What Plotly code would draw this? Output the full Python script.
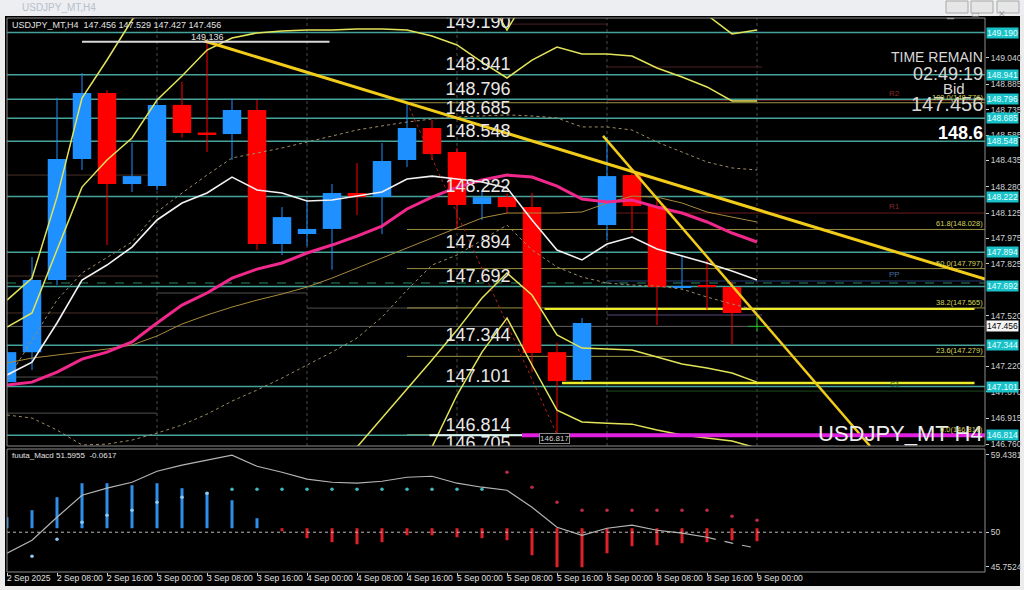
import plotly.graph_objects as go

# ---------------- data ----------------
bar_index = list(range(31))
x_tick_index = list(range(0, 31, 2))
x_tick_labels = ["2 Sep 2025", "2 Sep 08:00", "2 Sep 16:00", "3 Sep 00:00", "3 Sep 08:00",
                 "3 Sep 16:00", "4 Sep 00:00", "4 Sep 08:00", "4 Sep 16:00", "5 Sep 00:00",
                 "5 Sep 08:00", "5 Sep 16:00", "8 Sep 00:00", "8 Sep 08:00", "8 Sep 16:00",
                 "9 Sep 00:00"]

opens = [147.127, 147.304, 147.729, 148.444, 148.833, 148.296, 148.284, 148.763, 148.600, 148.591,
         148.733, 147.942, 148.001, 148.031, 148.243, 148.219, 148.438, 148.627, 148.485, 148.178,
         148.219, 148.160, 147.304, 147.139, 148.054, 148.349, 148.166, 147.688, 147.694, 147.688,
         147.456]
highs = [147.340, 147.865, 148.804, 148.951, 148.850, 148.538, 148.800, 148.900, 149.136, 148.800,
         148.792, 148.160, 148.200, 148.296, 148.420, 148.538, 148.776, 148.674, 148.509, 148.250,
         148.240, 148.243, 147.360, 147.505, 148.574, 148.370, 148.200, 147.877, 147.848, 147.720,
         147.529]
lows = [147.100, 147.198, 147.700, 148.379, 147.936, 148.249, 148.260, 148.570, 148.485, 148.438,
        147.907, 147.877, 147.930, 147.790, 148.113, 148.000, 148.397, 148.438, 148.025, 148.084,
        148.120, 147.186, 146.817, 147.127, 147.966, 148.007, 147.464, 147.670, 147.552, 147.346,
        147.427]
closes = [147.304, 147.729, 148.444, 148.833, 148.296, 148.343, 148.763, 148.597, 148.590, 148.733,
          147.942, 148.101, 148.031, 148.243, 148.219, 148.432, 148.627, 148.473, 148.172, 148.219,
          148.160, 147.299, 147.133, 147.476, 148.343, 148.166, 147.688, 147.694, 147.690, 147.535,
          147.456]

ma_white = [147.169, 147.245, 147.476, 147.729, 147.818, 147.924, 148.084, 148.184, 148.243, 148.337,
            148.261, 148.243, 148.196, 148.202, 148.225, 148.249, 148.326, 148.343, 148.326, 148.308,
            148.273, 148.084, 147.907, 147.848, 147.942, 147.983, 147.913, 147.871, 147.830, 147.783,
            147.729]
ma_magenta = [147.110, 147.127, 147.186, 147.263, 147.304, 147.364, 147.476, 147.582, 147.653, 147.741,
              147.794, 147.830, 147.889, 147.936, 147.989, 148.048, 148.149, 148.219, 148.278, 148.320,
              148.349, 148.337, 148.284, 148.208, 148.190, 148.202, 148.160, 148.125, 148.072, 148.007,
              147.954]
ma_olive = [147.240, 147.269, 147.287, 147.304, 147.322, 147.346, 147.399, 147.470, 147.523, 147.570,
            147.611, 147.647, 147.688, 147.741, 147.800, 147.859, 147.918, 147.977, 148.036, 148.096,
            148.125, 148.125, 148.125, 148.131, 148.184, 148.225, 148.219, 148.184, 148.131, 148.101,
            148.072]
ma_dot_upper = [147.139, 147.375, 147.611, 147.771, 147.865, 147.954, 148.131, 148.243, 148.349, 148.450,
                148.479, 148.509, 148.544, 148.580, 148.615, 148.639, 148.662, 148.680, 148.692, 148.698,
                148.704, 148.698, 148.686, 148.633, 148.633, 148.615, 148.544, 148.485, 148.426, 148.391,
                148.379]
ma_dot_lower = [146.933, 146.915, 146.844, 146.756, 146.761, 146.785, 146.826, 146.874, 146.938, 147.015,
                147.080, 147.151, 147.228, 147.304, 147.387, 147.511, 147.670, 147.818, 147.877, 147.966,
                148.054, 147.907, 147.806, 147.747, 147.712, 147.700, 147.694, 147.676, 147.629, 147.588,
                147.552]
band_outer_up = [147.611, 147.741, 148.219, 148.804, 149.028, 149.264, 149.45, 149.45, 149.45, 149.45,
                 149.45, 149.45, 149.45, 149.45, 149.45, 149.45, 149.45, 149.45, 149.45, 149.45,
                 149.205, 149.45, 149.45, 149.45, 149.45, 149.45, 149.45, 149.45, 149.294, 149.182,
                 149.205]
band_inner_up = [147.452, 147.535, 147.907, 148.278, 148.438, 148.568, 148.792, 148.934, 149.087, 149.158,
                 149.188, 149.199, 149.205, 149.205, 149.211, 149.211, 149.205, 149.170, 149.117, 149.016,
                 148.922, 149.028, 149.105, 149.064, 149.064, 149.052, 148.981, 148.928, 148.869, 148.786,
                 148.786]
band_inner_low = [146.5, 146.5, 146.5, 146.5, 146.5, 146.5, 146.5, 146.5, 146.5, 146.5,
                  146.5, 146.5, 146.5, 146.5, 146.744, 146.915, 147.080, 147.257, 147.434, 147.623,
                  147.771, 147.641, 147.405, 147.328, 147.322, 147.316, 147.275, 147.234, 147.210, 147.181,
                  147.127]
band_outer_low = [146.4, 146.4, 146.4, 146.4, 146.4, 146.4, 146.4, 146.4, 146.4, 146.4,
                  146.4, 146.4, 146.4, 146.4, 146.4, 146.4, 146.5, 146.744, 147.051, 147.304,
                  147.505, 147.228, 146.962, 146.892, 146.885, 146.879, 146.844, 146.815, 146.797, 146.779,
                  146.738]

trend1_k = [7.9, 39.12]
trend1_p = [149.140, 147.735]
trend2_k = [23.84, 34.52]
trend2_p = [148.580, 146.750]
zigzag_k = [16, 22]
zigzag_p = [148.776, 146.817]

levels = [149.190, 148.941, 148.796, 148.685, 148.548, 148.222, 147.894, 147.692, 147.344, 147.101, 146.814]
level_labels = ["149.190", "148.941", "148.796", "148.685", "148.548", "148.222", "147.894", "147.692",
                "147.344", "147.101", "146.814"]
big_label_values = levels + [146.705]
big_label_texts = level_labels + ["146.705"]

fib_values = [148.776, 148.028, 147.797, 147.565, 147.279, 146.817]
fib_labels = ["100.0(148.776)", "61.8(148.028)", "50.0(147.797)", "38.2(147.565)", "23.6(147.279)", "0.0(146.817)"]

pivot_values = [148.790, 148.125, 147.724, 147.074]
pivot_labels = ["R2", "R1", "PP", "S1"]

price_ticks = [149.040, 148.885, 148.735, 148.585, 148.435, 148.280, 148.125, 147.975, 147.825,
               147.520, 147.220, 147.070, 146.915, 146.760]

# MACD panel
macd_line = [47.43, 49.02, 51.83, 54.52, 55.38, 56.11, 57.45, 58.19, 58.80, 59.41,
             58.06, 57.33, 56.48, 56.11, 55.99, 56.23, 56.72, 56.84, 55.99, 55.50,
             55.13, 53.05, 50.61, 49.63, 50.49, 50.86, 50.24, 49.88, 49.39, 48.66,
             48.04]
hist_base = 50.49
hist_end = [51.83, 52.69, 54.28, 55.99, 55.99, 55.74, 55.99, 55.38, 54.89, 53.91,
            51.71, 50.12, 49.27, 48.78, 48.53, 48.78, 49.63, 49.63, 49.39, 49.27,
            49.02, 47.19, 45.72, 45.72, 47.43, 48.29, 48.41, 48.66, 48.78, 49.02,
            48.90]
signal_dots = [None, 47.07, 49.14, 51.22, 52.08, 52.69, 53.67, 54.28, 54.77, 55.25,
               55.25, 55.25, 55.25, 55.25, 55.25, 55.25, 55.25, 55.25, 55.25, 55.25,
               57.33, 55.50, 53.67, 52.69, 52.69, 52.69, 52.69, 52.69, 52.69, 51.96,
               51.47]
macd_ticks = [59.4381, 50, 45.7524]

# ---------------- layout helpers ----------------
W, H = 1024, 590
ML, MR, MT, MB = 7, 39, 18, 18
PW = W - ML - MR
PH = H - MT - MB


def px_x(px):
    return (px - ML) / PW


def px_y(py):
    return (H - MB - py) / PH


XMAX = 39.12
FONT = "Liberation Sans, Arial, sans-serif"

fig = go.Figure()

# ---------------- candles ----------------
up_k, up_b, up_h = [], [], []
dn_k, dn_b, dn_h = [], [], []
wick = {"up": ([], []), "dn": ([], []), "doji": ([], [])}
for k, o, h, l, c in zip(bar_index, opens, highs, lows, closes):
    body = max(abs(c - o), 0.006)
    if c > o:
        up_k.append(k); up_b.append(o); up_h.append(body); key = "up"
    elif c < o:
        dn_k.append(k); dn_b.append(c); dn_h.append(body); key = "dn"
    else:
        key = "doji"
    wick[key][0].extend([k, k, None])
    wick[key][1].extend([l, h, None])

wick_colors = {"up": "#1e90ff", "dn": "#ff0000", "doji": "#20c020"}
for key, (wx, wy) in wick.items():
    fig.add_trace(go.Scatter(x=wx, y=wy, mode="lines", line=dict(color=wick_colors[key], width=1),
                             xaxis="x", yaxis="y", hoverinfo="skip", showlegend=False))
fig.add_trace(go.Bar(x=up_k, y=up_h, base=up_b, width=0.74, marker=dict(color="#1e90ff", line=dict(width=0)),
                     xaxis="x", yaxis="y", showlegend=False))
fig.add_trace(go.Bar(x=dn_k, y=dn_h, base=dn_b, width=0.74, marker=dict(color="#ff0000", line=dict(width=0)),
                     xaxis="x", yaxis="y", showlegend=False))
# doji body
fig.add_trace(go.Scatter(x=[30 - 0.35, 30 + 0.35], y=[closes[30], closes[30]], mode="lines",
                         line=dict(color="#20c020", width=1), xaxis="x", yaxis="y", showlegend=False))

# ---------------- indicator lines ----------------
def line(y, color, width, dash="solid", x=None):
    fig.add_trace(go.Scatter(x=x if x is not None else bar_index, y=y, mode="lines",
                             line=dict(color=color, width=width, dash=dash),
                             xaxis="x", yaxis="y", hoverinfo="skip", showlegend=False))

line(ma_dot_upper, "#9c8a66", 1, "dot")
line(ma_dot_lower, "#9c8a66", 1, "dot")
line(ma_olive, "#a88a3c", 1)
line(band_outer_up, "#e2e458", 1.5)
line(band_inner_up, "#e2e458", 1.5)
line(band_inner_low, "#e2e458", 1.5)
line(band_outer_low, "#e2e458", 1.5)
line(ma_magenta, "#f0288c", 3)
line(ma_white, "#f2f2f2", 1.6)
line(zigzag_p, "#b02020", 1, "dot", x=zigzag_k)
line(trend1_p, "#f2cc1a", 3, x=trend1_k)
line(trend2_p, "#f2cc1a", 2.5, x=trend2_k)

# big level labels (clipped to the panel like the terminal does)
fig.add_trace(go.Scatter(x=[18.84] * len(big_label_values), y=big_label_values, mode="text",
                         text=big_label_texts, textposition="top center",
                         textfont=dict(family=FONT, size=18, color="#e8e8e8"),
                         xaxis="x", yaxis="y", hoverinfo="skip", showlegend=False, cliponaxis=True))

# ---------------- MACD panel ----------------
hist_colors = ["#2e8fe8" if e > hist_base else "#e0202a" for e in hist_end]
fig.add_trace(go.Bar(x=bar_index, y=[e - hist_base for e in hist_end], base=hist_base, width=0.12,
                     marker=dict(color=hist_colors, line=dict(width=0)), xaxis="x", yaxis="y2",
                     showlegend=False))
dot_colors = ["#8fc8f0" if i < 9 else ("#40b8c0" if i < 20 else "#c02848") for i in bar_index]
fig.add_trace(go.Scatter(x=bar_index, y=signal_dots, mode="markers",
                         marker=dict(size=3.5, color=dot_colors), xaxis="x", yaxis="y2", showlegend=False))
fig.add_trace(go.Scatter(x=bar_index[:29], y=macd_line[:29], mode="lines",
                         line=dict(color="#b4b4b4", width=1.2), xaxis="x", yaxis="y2", showlegend=False))
fig.add_trace(go.Scatter(x=bar_index[28:], y=macd_line[28:], mode="lines",
                         line=dict(color="#b4b4b4", width=1.2, dash="dash"), xaxis="x", yaxis="y2",
                         showlegend=False))

# ---------------- shapes ----------------
shapes = []
# window chrome / chart background
shapes.append(dict(type="rect", xref="paper", yref="paper", x0=px_x(0), x1=px_x(W), y0=px_y(0), y1=px_y(15),
                   fillcolor="#eceef2", line=dict(width=0), layer="below"))
shapes.append(dict(type="rect", xref="paper", yref="paper", x0=px_x(5), x1=px_x(1020), y0=px_y(586),
                   y1=px_y(16), fillcolor="#000000", line=dict(width=0), layer="below"))
for bx in (946, 971, 997):
    shapes.append(dict(type="rect", xref="paper", yref="paper", x0=px_x(bx), x1=px_x(bx + 22),
                       y0=px_y(13), y1=px_y(1), fillcolor="#e6e6e6", line=dict(color="#a8a8a8", width=1)))

# faint historical levels
faint = [(148.349, 0, 6, "#4a3028"), (147.753, 0, 6, "#4a3028"), (147.653, 6, 12, "#505050"),
         (147.535, 0, 6, "#4a3028"), (147.564, 12, 18, "#505050"), (147.157, 0, 6, "#505050"),
         (146.944, 0, 6, "#505050"), (147.523, 24, 30.2, "#5a4a78"), (148.987, 24, 30.2, "#4a2020"),
         (149.240, 20, 24, "#4a2020")]
for yv, a, b, col in faint:
    shapes.append(dict(type="line", xref="x", yref="y", x0=a, x1=b, y0=yv, y1=yv,
                       line=dict(color=col, width=1), layer="below"))
# bid line
shapes.append(dict(type="line", xref="x", yref="y", x0=0, x1=XMAX, y0=closes[-1], y1=closes[-1],
                   line=dict(color="#606060", width=1), layer="below"))
# day separators
for k in (6, 12, 18, 24, 30):
    shapes.append(dict(type="line", xref="x", yref="paper", x0=k, x1=k, y0=px_y(446), y1=1,
                       line=dict(color="#4a4a4a", width=1, dash="dot"), layer="below"))
# pivots
pivot_colors = ["#6a1c1c", "#6a1c1c", "#243c70", "#1c4a1c"]
for pv, pc in zip(pivot_values, pivot_colors):
    shapes.append(dict(type="line", xref="x", yref="y", x0=24, x1=XMAX, y0=pv, y1=pv,
                       line=dict(color=pc, width=1), layer="below"))
# fibonacci
for fv in fib_values:
    shapes.append(dict(type="line", xref="x", yref="y", x0=16, x1=XMAX, y0=fv, y1=fv,
                       line=dict(color="#9a9040", width=1), layer="below"))
# teal S/R lines
for lv in levels:
    shapes.append(dict(type="line", xref="x", yref="y", x0=0, x1=XMAX, y0=lv, y1=lv,
                       line=dict(color="#45a39c", width=1.5), layer="below"))
# dashed green
shapes.append(dict(type="line", xref="x", yref="y", x0=0, x1=XMAX, y0=147.712, y1=147.712,
                   line=dict(color="#2a8a60", width=1, dash="dash"), layer="below"))
# bright yellow horizontals
shapes.append(dict(type="line", xref="x", yref="y", x0=21.5, x1=38.7, y0=147.558, y1=147.558,
                   line=dict(color="#ecec2a", width=2), layer="below"))
shapes.append(dict(type="line", xref="x", yref="y", x0=22.2, x1=38.7, y0=147.122, y1=147.122,
                   line=dict(color="#ecec2a", width=2.5), layer="below"))
# highlighted low line
shapes.append(dict(type="line", xref="x", yref="y", x0=16.9, x1=20.6, y0=146.814, y1=146.814,
                   line=dict(color="#d8f4f4", width=2)))
shapes.append(dict(type="line", xref="x", yref="y", x0=20.6, x1=XMAX, y0=146.814, y1=146.814,
                   line=dict(color="#e020e0", width=4)))
# high marker line
shapes.append(dict(type="line", xref="x", yref="y", x0=3, x1=12.9, y0=149.136, y1=149.136,
                   line=dict(color="#d8d8d8", width=2)))
# MACD 50 level
shapes.append(dict(type="line", xref="x", yref="y2", x0=0, x1=XMAX, y0=50, y1=50,
                   line=dict(color="#bcbcbc", width=1, dash="dot")))
# panel frames
shapes.append(dict(type="rect", xref="paper", yref="paper", x0=0, x1=1, y0=px_y(446), y1=1,
                   line=dict(color="#8c8c8c", width=1)))
shapes.append(dict(type="rect", xref="paper", yref="paper", x0=0, x1=1, y0=0, y1=px_y(449),
                   line=dict(color="#8c8c8c", width=1)))

# ---------------- annotations ----------------
ann = []
ann.append(dict(xref="paper", yref="paper", x=px_x(20), y=px_y(8), text="USDJPY_MT,H4", showarrow=False,
                xanchor="left", yanchor="middle", font=dict(family=FONT, size=10, color="#b8c0ca")))
for bx, g in ((946, "▁"), (971, "▭"), (997, "✕")):
    ann.append(dict(xref="paper", yref="paper", x=px_x(bx + 11), y=px_y(7), text=g, showarrow=False,
                    font=dict(family="DejaVu Sans", size=9, color="#9a9a9a")))
ann.append(dict(xref="paper", yref="paper", x=px_x(10), y=px_y(25),
                text="USDJPY_MT,H4  147.456 147.529 147.427 147.456", showarrow=False,
                xanchor="left", yanchor="middle", font=dict(family=FONT, size=9, color="#e0e0e0")))
ann.append(dict(xref="paper", yref="paper", x=px_x(10), y=px_y(455), text="fuuta_Macd 51.5955  -0.0617",
                showarrow=False, xanchor="left", yanchor="middle",
                font=dict(family=FONT, size=8, color="#e0e0e0")))
ann.append(dict(xref="x", yref="y", x=8, y=149.136, text="149.136", showarrow=False, yanchor="bottom",
                yshift=-2, font=dict(family=FONT, size=9, color="#e0e0e0")))
ann.append(dict(xref="x", yref="y", x=21.9, y=146.797, text="146.817", showarrow=False,
                bordercolor="#8a8a8a", borderwidth=1, borderpad=0, bgcolor="#000000",
                font=dict(family=FONT, size=8, color="#d0d0d0")))
# right-side info block
info = [("TIME REMAIN", 57, 14, False, 0), ("02:49:19", 74, 18, False, 0), ("Bid", 88, 15, False, -18),
        ("147.456", 104, 20, False, 0), ("<b>148.6</b>", 133, 18, True, 0)]
for txt, py, sz, bold, xs in info:
    ann.append(dict(xref="paper", yref="paper", x=1, y=px_y(py), text=txt, showarrow=False,
                    xanchor="right", yanchor="middle", xshift=xs,
                    font=dict(family=FONT, size=sz, color="#ffffff" if bold else "#d8d8d8")))
ann.append(dict(xref="paper", yref="paper", x=1, y=px_y(433), text="USDJPY_MT H4", showarrow=False,
                xanchor="right", yanchor="middle", font=dict(family=FONT, size=22, color="#ececec")))
# fib labels
for fv, fl in zip(fib_values, fib_labels):
    ann.append(dict(xref="paper", yref="y", x=1, y=fv, text=fl, showarrow=False, xanchor="right",
                    yanchor="bottom", yshift=-1, font=dict(family=FONT, size=7.5, color="#d4d45a")))
# pivot labels
for pv, pl, pc in zip(pivot_values, pivot_labels, ["#8a2a2a", "#8a2a2a", "#4a6aa8", "#2a6a2a"]):
    ann.append(dict(xref="x", yref="y", x=35.5, y=pv, text=pl, showarrow=False, yanchor="bottom",
                    font=dict(family=FONT, size=8, color=pc)))
# level boxes on the price scale
for lv, ll in zip(levels, level_labels):
    ann.append(dict(xref="paper", yref="y", x=1, y=lv, text=ll, showarrow=False, xanchor="left",
                    xshift=1, bgcolor="#19c2c8", borderpad=0,
                    font=dict(family=FONT, size=8.5, color="#e4ffff")))
ann.append(dict(xref="paper", yref="y", x=1, y=closes[-1], text="147.456", showarrow=False,
                xanchor="left", xshift=1, bgcolor="#f4f4f4", borderpad=0,
                font=dict(family=FONT, size=8.5, color="#000000")))
# time labels
for k, tl in zip(x_tick_index, x_tick_labels):
    ann.append(dict(xref="x", yref="paper", x=k, y=px_y(578), text=tl, showarrow=False, xanchor="left",
                    yanchor="middle", xshift=-2, font=dict(family=FONT, size=8.5, color="#e0e0e0")))

fig.update_layout(
    width=W, height=H, margin=dict(l=ML, r=MR, t=MT, b=MB, pad=0),
    paper_bgcolor="#ececec", plot_bgcolor="rgba(0,0,0,0)", template="none",
    barmode="overlay", showlegend=False, shapes=shapes, annotations=ann,
    xaxis=dict(domain=[0, 1], range=[0, XMAX], anchor="y2", showgrid=False, zeroline=False,
               showticklabels=False, ticks="outside", ticklen=3, tickcolor="#d0d0d0",
               tickvals=x_tick_index, automargin=False, fixedrange=True),
    yaxis=dict(domain=[px_y(446), 1], range=[146.750, 149.276], side="right", anchor="x",
               showgrid=False, zeroline=False, tickvals=price_ticks,
               ticktext=[f"{v:.3f}" for v in price_ticks], ticks="outside", ticklen=3,
               tickcolor="#d0d0d0", tickfont=dict(family=FONT, size=8.5, color="#d0d0d0"),
               automargin=False),
    yaxis2=dict(domain=[0, px_y(449)], range=[45.14, 60.17], side="right", anchor="x",
                showgrid=False, zeroline=False, tickvals=macd_ticks,
                ticktext=["59.4381", "50", "45.7524"], ticks="outside", ticklen=3,
                tickcolor="#d0d0d0", tickfont=dict(family=FONT, size=8.5, color="#d0d0d0"),
                automargin=False),
)

fig.write_html("out.html", config={"displayModeBar": False},
               post_script="document.body.style.margin='0';document.body.style.overflow='hidden';")
